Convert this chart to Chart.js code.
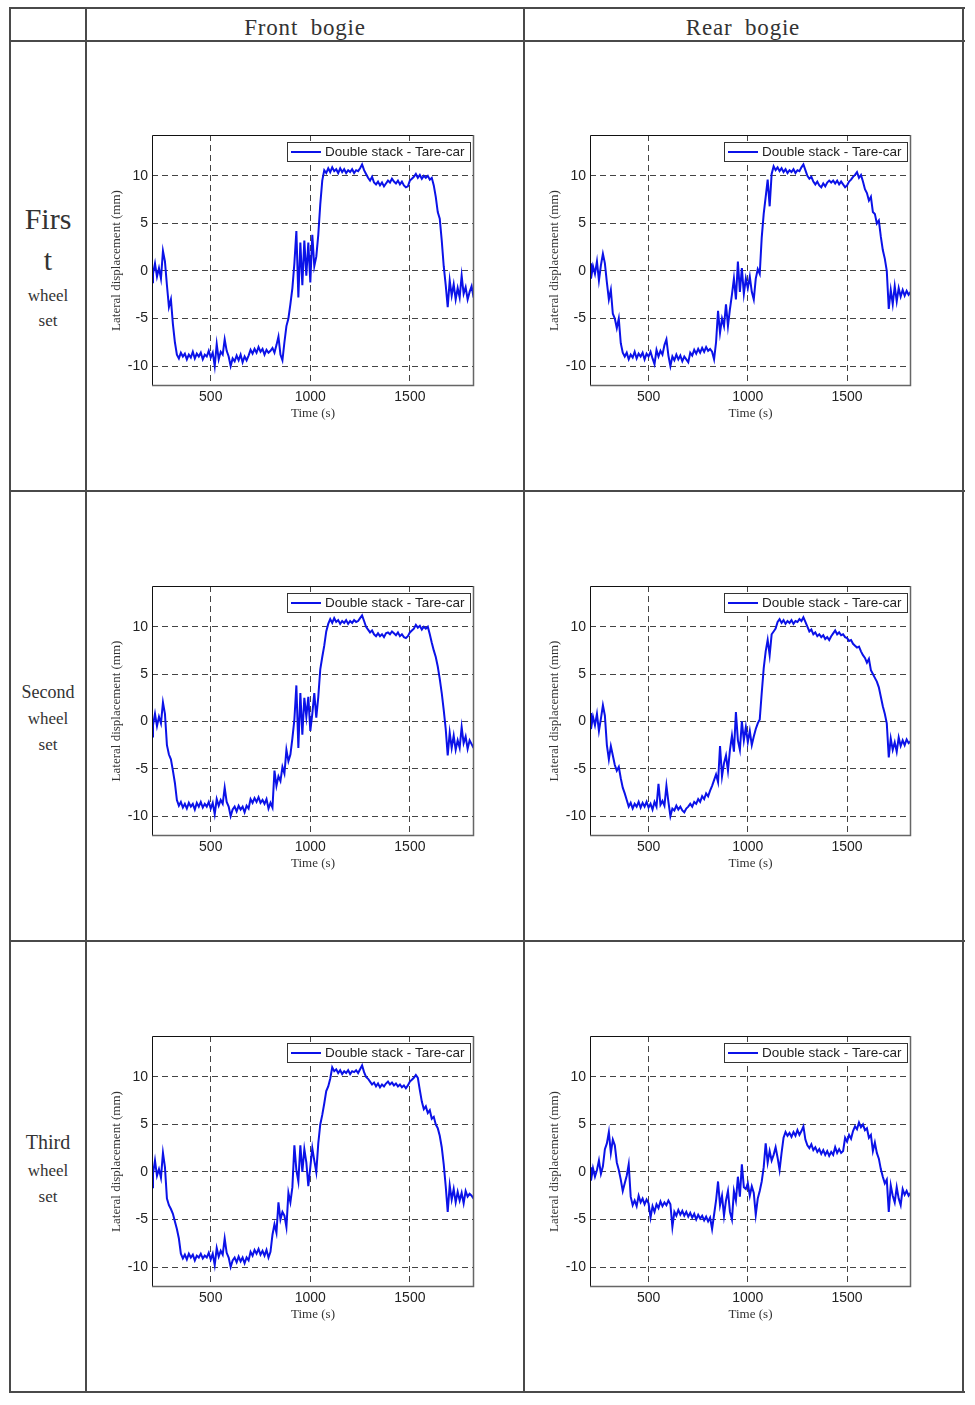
<!DOCTYPE html>
<html><head><meta charset="utf-8">
<script src="https://cdn.jsdelivr.net/npm/chart.js@4.4.0/dist/chart.umd.min.js"></script>
<style>
html,body{margin:0;padding:0;background:#fff;}
body{width:975px;height:1405px;position:relative;overflow:hidden;}
.ln{position:absolute;background:#4a4a4a;}
.t{position:absolute;transform:translate(-50%,-50%);font-family:"Liberation Serif","DejaVu Serif",serif;color:#333;white-space:nowrap;line-height:1;}
canvas{position:absolute;}
</style></head><body>
<!-- table lines -->
<div class="ln" style="left:9px;top:7px;width:956px;height:2px"></div>
<div class="ln" style="left:9px;top:40px;width:956px;height:2px"></div>
<div class="ln" style="left:9px;top:490px;width:956px;height:2px"></div>
<div class="ln" style="left:9px;top:940px;width:956px;height:2px"></div>
<div class="ln" style="left:9px;top:1391px;width:956px;height:2px"></div>
<div class="ln" style="left:9px;top:7px;width:2px;height:1386px"></div>
<div class="ln" style="left:85px;top:7px;width:2px;height:1386px"></div>
<div class="ln" style="left:523px;top:7px;width:2px;height:1386px"></div>
<div class="ln" style="left:962px;top:7px;width:2px;height:1386px"></div>

<div class="t" style="left:305px;top:27px;font-size:23px;letter-spacing:0.8px;word-spacing:6px">Front bogie</div>
<div class="t" style="left:743px;top:27px;font-size:23px;letter-spacing:0.8px;word-spacing:6px">Rear bogie</div>

<div class="t" style="left:48px;top:219px;font-size:30px">Firs</div>
<div class="t" style="left:48px;top:260px;font-size:30px">t</div>
<div class="t" style="left:48px;top:295px;font-size:17px">wheel</div>
<div class="t" style="left:48px;top:320px;font-size:17px">set</div>

<div class="t" style="left:48px;top:692px;font-size:18px">Second</div>
<div class="t" style="left:48px;top:718px;font-size:17px">wheel</div>
<div class="t" style="left:48px;top:744px;font-size:17px">set</div>

<div class="t" style="left:48px;top:1142px;font-size:20px">Third</div>
<div class="t" style="left:48px;top:1170px;font-size:17px">wheel</div>
<div class="t" style="left:48px;top:1196px;font-size:17px">set</div>

<script>
// ---- data ----
const TIME = [205,
 210,220,230,240,250,260,270,280,290,300,
 310,320,330,340,350,360,370,380,390,400,
 410,420,430,440,450,460,470,480,490,500,
 510,520,530,540,550,560,570,580,590,600,
 610,620,630,640,650,660,670,680,690,700,
 710,720,730,740,750,760,770,780,790,800,
 810,820,830,840,850,860,870,880,890,900,
 910,920,930,940,950,960,970,980,990,1000,
 1010,1020,1030,1040,1050,1060,1070,1080,1090,1100,
 1110,1120,1130,1140,1150,1160,1170,1180,1190,1200,
 1210,1220,1230,1240,1250,1260,1270,1280,1290,1300,
 1310,1320,1330,1340,1350,1360,1370,1380,1390,1400,
 1410,1420,1430,1440,1450,1460,1470,1480,1490,1500,
 1510,1520,1530,1540,1550,1560,1570,1580,1590,1600,
 1610,1620,1630,1640,1650,1660,1670,1680,1690,1700,
 1710,1720,1730,1740,1750,1760,1770,1780,1790,1800,
 1810,1820];

const FRONT_FIRST = [-1.2,
 -0.3,0.8,-0.6,0.3,-0.8,2.1,1.0,-1.5,-3.8,-3.0,
 -5.6,-7.5,-8.8,-9.2,-8.6,-9.0,-8.7,-9.3,-8.8,-9.1,
 -8.5,-9.2,-8.7,-9.0,-8.6,-9.3,-8.8,-9.0,-8.4,-9.1,
 -8.6,-10.0,-7.7,-9.3,-8.5,-8.8,-7.2,-8.4,-9.0,-10.0,
 -9.2,-9.5,-8.9,-9.4,-8.8,-9.6,-9.0,-9.4,-8.9,-8.3,
 -8.7,-8.2,-8.6,-8.0,-8.5,-8.2,-8.8,-8.3,-8.6,-8.4,
 -8.1,-8.6,-7.8,-6.9,-8.8,-9.4,-7.5,-5.8,-5.0,-3.5,
 -1.8,0.8,4.2,-2.8,3.0,-1.5,3.2,-0.5,3.0,-1.2,
 3.8,0.5,1.5,3.8,7.0,9.5,10.6,10.3,10.8,10.4,
 10.9,10.5,10.7,10.3,10.8,10.4,10.7,10.3,10.6,10.4,
 10.7,10.3,10.6,10.5,10.8,11.2,10.6,10.2,9.8,9.5,
 9.9,9.3,9.1,9.4,9.0,9.3,8.9,9.2,9.5,9.3,
 9.7,9.4,9.2,9.5,9.1,9.4,9.0,8.8,8.9,9.5,
 9.7,9.9,10.2,9.8,10.1,9.7,10.0,9.8,10.0,9.6,
 9.8,9.0,7.8,6.2,5.5,3.2,0.5,-1.5,-3.8,-1.0,
 -2.6,-1.4,-3.0,-1.8,-2.8,-0.5,-2.4,-1.7,-3.0,-2.2,
 -1.6,-2.8];

const REAR_FIRST = [0.8,
 -0.8,0.5,-0.3,1.0,-1.0,0.6,1.8,0.8,-1.2,-3.0,
 -2.0,-4.5,-5.0,-6.0,-5.0,-7.6,-8.6,-9.0,-8.6,-9.3,
 -8.8,-9.1,-8.5,-9.2,-8.7,-9.0,-8.6,-9.3,-8.7,-9.0,
 -8.5,-9.2,-9.8,-8.3,-9.0,-8.4,-8.8,-7.8,-7.2,-8.9,
 -10.0,-9.0,-9.4,-8.8,-9.3,-8.9,-9.5,-9.0,-9.3,-9.6,
 -8.6,-8.9,-8.3,-8.7,-8.2,-8.6,-8.1,-8.5,-8.0,-8.4,
 -8.2,-8.5,-9.3,-7.5,-4.2,-6.5,-5.0,-5.8,-3.5,-5.8,
 -4.0,-2.5,-0.8,-3.0,1.0,-2.2,0.3,-2.4,-0.8,-1.8,
 -0.6,-2.2,-3.0,-0.8,0.2,-0.3,3.5,6.0,7.8,9.6,
 6.8,10.2,11.0,10.6,10.9,10.5,10.8,10.4,10.7,10.3,
 10.6,10.4,10.7,10.3,10.6,10.5,10.9,11.2,10.6,10.0,
 9.7,9.9,9.4,9.1,9.4,9.0,8.8,9.2,8.9,9.3,
 9.5,9.3,9.5,9.2,9.5,9.1,9.4,9.1,8.8,9.0,
 9.4,9.6,9.9,10.1,10.4,9.8,10.1,9.4,8.6,8.2,
 7.4,7.8,6.2,6.0,5.0,5.3,3.6,2.2,1.3,0.0,
 -4.0,-2.0,-3.5,-1.6,-3.2,-1.8,-2.7,-2.0,-2.6,-2.1,
 -2.5,-2.2];

const FRONT_SECOND = [-1.6,
 -0.4,0.8,-0.5,0.5,-0.2,2.0,0.8,-2.5,-3.5,-4.0,
 -5.2,-6.5,-8.3,-8.9,-8.5,-9.1,-8.7,-9.2,-8.6,-9.0,
 -8.7,-9.3,-8.6,-9.0,-8.5,-9.1,-8.7,-9.0,-8.5,-9.2,
 -8.6,-9.8,-8.2,-8.9,-8.3,-8.7,-7.0,-8.5,-9.0,-10.0,
 -9.3,-9.0,-9.5,-8.9,-9.3,-9.0,-9.6,-8.9,-9.2,-8.2,
 -8.6,-8.1,-8.5,-8.0,-8.6,-8.3,-8.7,-8.2,-9.2,-8.6,
 -9.1,-5.2,-6.8,-5.8,-6.3,-4.8,-5.5,-3.0,-4.2,-3.5,
 -1.8,0.2,3.8,-2.8,3.0,-1.4,2.5,0.5,2.6,-1.0,
 0.8,3.0,0.4,2.6,5.5,6.8,8.0,9.5,10.3,10.8,
 10.4,10.9,10.5,10.7,10.3,10.6,10.4,10.7,10.3,10.6,
 10.4,10.7,10.5,10.6,10.9,11.2,10.6,10.0,9.7,9.4,
 9.6,9.2,9.0,9.3,9.0,9.2,8.9,9.3,9.4,9.2,
 9.5,9.3,9.1,9.4,9.0,9.2,8.9,8.8,9.0,9.4,
 9.6,9.8,10.2,9.9,10.1,9.7,10.0,9.8,10.0,9.2,
 8.3,7.5,6.8,5.8,4.5,3.0,1.2,-0.8,-3.6,-1.2,
 -2.8,-1.5,-3.0,-2.0,-2.8,-0.6,-2.3,-1.6,-2.9,-2.0,
 -2.4,-2.8];

const REAR_SECOND = [0.9,
 -0.8,0.5,-0.4,0.8,-1.0,0.3,1.7,0.6,-2.5,-4.0,
 -2.6,-3.6,-4.6,-5.2,-4.8,-6.0,-7.0,-7.6,-8.3,-9.0,
 -8.6,-9.2,-8.7,-9.0,-8.5,-9.1,-8.6,-9.0,-8.5,-9.1,
 -8.7,-9.3,-8.5,-9.0,-6.6,-8.8,-8.4,-8.9,-6.8,-8.5,
 -10.0,-9.2,-9.4,-8.9,-9.3,-9.0,-9.4,-9.6,-9.2,-9.0,
 -8.7,-9.0,-8.5,-8.7,-8.2,-8.5,-7.9,-8.2,-7.6,-7.9,
 -7.3,-6.8,-6.2,-5.6,-6.4,-2.6,-5.8,-4.4,-3.6,-5.2,
 -3.0,-1.5,-3.2,1.0,-2.0,-3.0,0.0,-2.0,-0.6,-2.2,
 -1.0,-2.5,-1.6,-0.8,-0.2,0.2,3.0,5.6,7.4,8.6,
 7.0,9.2,9.5,9.8,10.5,10.8,10.4,10.7,10.3,10.6,
 10.4,10.7,10.3,10.6,10.5,10.8,10.6,11.0,10.5,10.0,
 9.5,9.7,9.2,9.4,9.0,9.2,8.9,9.1,8.7,8.9,
 8.6,9.0,9.3,9.6,9.2,9.4,9.1,9.2,8.9,8.8,
 8.5,8.6,8.2,8.0,7.8,7.9,7.4,7.0,6.7,6.2,
 6.6,5.4,5.0,4.6,4.2,3.6,2.6,1.6,0.8,-0.2,
 -3.8,-1.8,-3.0,-2.2,-3.2,-1.7,-2.6,-2.0,-2.5,-1.9,
 -2.3,-2.1];

const FRONT_THIRD = [-1.6,
 -0.2,1.2,-0.4,0.3,-0.6,2.0,0.5,-2.8,-3.5,-3.9,
 -4.4,-5.2,-6.0,-7.0,-8.6,-9.1,-8.7,-9.2,-8.6,-9.0,
 -8.7,-9.3,-8.8,-9.0,-8.6,-9.1,-8.8,-9.0,-8.5,-9.2,
 -8.6,-9.8,-8.0,-8.9,-8.3,-8.7,-7.0,-8.5,-9.0,-10.0,
 -9.3,-9.0,-9.5,-8.9,-9.4,-9.0,-9.6,-9.0,-9.3,-8.4,
 -8.8,-8.2,-8.6,-8.1,-8.7,-8.3,-8.8,-8.2,-9.0,-8.4,
 -6.6,-5.5,-6.4,-3.2,-5.0,-4.2,-4.6,-5.8,-2.2,-3.2,
 -1.6,2.8,0.2,-1.0,2.8,0.0,2.4,1.0,-1.5,0.5,
 2.5,1.2,0.0,3.0,5.0,6.0,7.2,8.5,9.0,9.8,
 11.0,10.6,10.8,10.4,10.7,10.3,10.6,10.4,10.7,10.3,
 10.6,10.5,10.7,10.4,10.8,11.2,10.5,10.0,9.8,9.5,
 9.2,9.4,9.0,9.3,8.9,9.2,9.0,9.3,9.5,9.2,
 9.4,9.1,9.3,9.0,9.2,8.9,9.1,8.8,9.1,9.5,
 9.7,9.9,10.2,9.9,8.6,7.4,6.6,6.9,6.2,6.5,
 5.6,5.8,5.0,4.6,3.8,2.6,0.8,-1.5,-4.2,-1.4,
 -2.9,-1.8,-3.2,-2.1,-3.0,-2.2,-3.3,-2.0,-2.6,-2.3,
 -2.5,-2.8];

const REAR_THIRD = [0.5,
 -0.9,0.4,-0.5,0.2,1.2,-0.2,0.6,2.4,3.0,4.2,
 2.0,3.4,2.8,1.0,0.2,-0.8,-2.0,-1.2,-0.4,0.8,
 -2.6,-3.5,-3.0,-3.6,-2.5,-3.2,-2.8,-3.4,-2.9,-3.3,
 -4.8,-3.6,-4.2,-3.4,-3.8,-3.1,-3.6,-3.2,-3.5,-3.0,
 -3.4,-5.8,-4.2,-4.6,-4.0,-4.5,-4.1,-4.6,-4.2,-4.7,
 -4.3,-4.8,-4.4,-5.0,-4.5,-4.9,-4.6,-5.1,-4.7,-5.2,
 -4.8,-6.0,-4.5,-3.0,-1.0,-3.5,-2.5,-4.6,-3.0,-2.0,
 -4.2,-5.0,-2.0,-3.0,-0.5,-2.6,0.8,-1.6,-1.8,-1.2,
 -2.5,-1.5,-2.2,-4.5,-2.8,-2.0,-1.0,0.5,3.0,1.0,
 2.2,1.2,1.8,2.6,1.5,0.2,2.0,3.6,4.2,3.8,
 4.1,3.7,4.2,3.8,4.4,3.9,4.3,4.8,3.4,2.8,
 2.5,2.9,2.3,2.6,2.1,2.4,1.9,2.3,1.8,2.2,
 1.7,2.1,1.8,2.6,2.0,2.4,2.0,2.2,3.6,3.2,
 3.9,3.5,4.3,4.8,4.5,5.2,4.7,5.0,4.4,4.6,
 3.6,3.9,2.2,3.1,2.0,1.4,0.3,-0.5,-1.2,-0.8,
 -4.2,-1.4,-2.5,-3.2,-1.6,-2.8,-3.5,-1.8,-2.4,-2.0,
 -2.5,-2.2];

const X_TICKS = [500, 1000, 1500];
const Y_TICKS = [-10, -5, 0, 5, 10];
const SERIES_LABEL = 'Double stack - Tare-car';
const X_TITLE = 'Time (s)';
const Y_TITLE = 'Lateral displacement (mm)';
const X_MIN = 205, X_MAX = 1822;
const Y_MIN = -12.1, Y_MAX = 14.3;
const LINE_COLOR = '#0b12e8';

Chart.defaults.font.family = '"Liberation Sans", Arial, sans-serif';

const framePlugin = {
  id: 'frameLegend',
  afterDraw(chart) {
    const {ctx, chartArea: a} = chart;
    ctx.save();
    ctx.setLineDash([]);
    ctx.lineWidth = 1;
    ctx.strokeStyle = '#111';
    ctx.beginPath();
    ctx.moveTo(a.left + 0.5, a.bottom); ctx.lineTo(a.left + 0.5, a.top + 0.5); ctx.lineTo(a.right, a.top + 0.5);
    ctx.stroke();
    ctx.strokeStyle = '#666';
    ctx.lineWidth = 1.5;
    ctx.beginPath();
    ctx.moveTo(a.right - 0.5, a.top); ctx.lineTo(a.right - 0.5, a.bottom - 0.5); ctx.lineTo(a.left, a.bottom - 0.5);
    ctx.stroke();
    // legend
    const ds = chart.data.datasets[0];
    const w = 183, h = 19;
    const x = a.right - 4 - w, y = a.top + 7;
    ctx.fillStyle = '#fff';
    ctx.fillRect(x, y, w, h);
    ctx.strokeStyle = '#333';
    ctx.lineWidth = 1;
    ctx.strokeRect(x + 0.5, y + 0.5, w, h);
    ctx.strokeStyle = ds.borderColor;
    ctx.lineWidth = 2;
    ctx.beginPath();
    ctx.moveTo(x + 4, y + h / 2 + 0.5); ctx.lineTo(x + 34, y + h / 2 + 0.5);
    ctx.stroke();
    ctx.fillStyle = '#222';
    ctx.font = '13.5px "Liberation Sans", Arial, sans-serif';
    ctx.textBaseline = 'middle';
    ctx.textAlign = 'left';
    ctx.fillText(ds.label, x + 38, y + h / 2 + 1);
    ctx.restore();
  }
};

function makeChart(plotLeft, plotTop, plotW, plotH, values) {
  const LW = 48, TP = 13, RP = 8, BH = 36;
  const W = LW + plotW + RP, H = TP + plotH + BH;
  const c = document.createElement('canvas');
  c.width = W; c.height = H;
  c.style.left = (plotLeft - LW) + 'px';
  c.style.top = (plotTop - TP) + 'px';
  c.style.width = W + 'px'; c.style.height = H + 'px';
  document.body.appendChild(c);
  const pts = TIME.map((t, i) => ({x: t, y: values[i]}));
  new Chart(c, {
    type: 'line',
    data: {datasets: [{label: SERIES_LABEL, data: pts, borderColor: LINE_COLOR, borderWidth: 2,
      pointRadius: 0, tension: 0, fill: false}]},
    options: {
      responsive: false, animation: false, devicePixelRatio: 1,
      layout: {padding: {left: 0, top: TP, right: RP, bottom: 0}},
      plugins: {legend: {display: false}, tooltip: {enabled: false}},
      scales: {
        x: {
          type: 'linear', min: X_MIN, max: X_MAX,
          afterBuildTicks: s => { s.ticks = X_TICKS.map(v => ({value: v})); },
          ticks: {padding: 3, color: '#222', font: {size: 14}, maxRotation: 0, autoSkip: false, callback: v => String(v)},
          grid: {color: '#444', drawTicks: false, lineWidth: 1},
          border: {display: false, dash: [6, 4]},
          title: {display: true, text: X_TITLE, color: '#333', font: {family: '"Liberation Serif", serif', size: 13}, padding: {top: 0, bottom: 1}},
          afterFit: s => { s.height = BH; }
        },
        y: {
          type: 'linear', min: Y_MIN, max: Y_MAX,
          afterBuildTicks: s => { s.ticks = Y_TICKS.map(v => ({value: v})); },
          ticks: {padding: 4, color: '#222', font: {size: 14}, callback: v => String(v)},
          grid: {color: '#444', drawTicks: false, lineWidth: 1},
          border: {display: false, dash: [6, 4]},
          title: {display: true, text: Y_TITLE, color: '#333', font: {family: '"Liberation Serif", serif', size: 13}, padding: {top: 5, bottom: 0}},
          afterFit: s => { s.width = LW; }
        }
      }
    },
    plugins: [framePlugin]
  });
}

makeChart(152, 135, 322, 251, FRONT_FIRST);
makeChart(590, 135, 321, 251, REAR_FIRST);
makeChart(152, 586, 322, 250, FRONT_SECOND);
makeChart(590, 586, 321, 250, REAR_SECOND);
makeChart(152, 1036, 322, 251, FRONT_THIRD);
makeChart(590, 1036, 321, 251, REAR_THIRD);
</script>
</body></html>
